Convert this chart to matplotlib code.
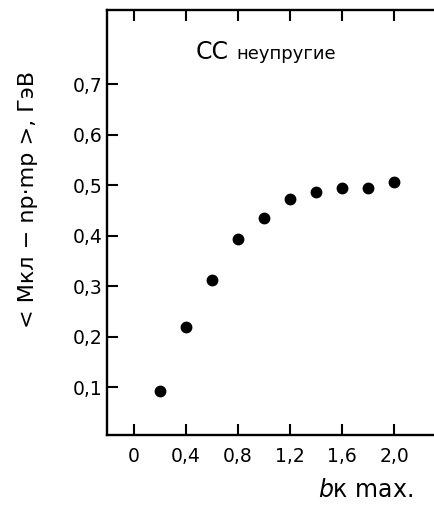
import matplotlib
matplotlib.use('Agg')
import matplotlib.pyplot as plt

plt.rcParams['font.family'] = ['DejaVu Sans']

# bk max vs mean cluster mass excess, CC inelastic
b_max = [0.2, 0.4, 0.6, 0.8, 1.0, 1.2, 1.4, 1.6, 1.8, 2.0]
mass = [0.092, 0.219, 0.312, 0.394, 0.434, 0.473, 0.487, 0.495, 0.495, 0.506]

x_ticks = [0, 0.4, 0.8, 1.2, 1.6, 2.0]
x_ticklabels = ['0', '0,4', '0,8', '1,2', '1,6', '2,0']
y_ticks = [0.1, 0.2, 0.3, 0.4, 0.5, 0.6, 0.7]
y_ticklabels = ['0,1', '0,2', '0,3', '0,4', '0,5', '0,6', '0,7']

W, H = 435, 515
fig = plt.figure(figsize=(W / 100, H / 100), dpi=100)
# frame runs past the right edge of the canvas
left, right, top, bottom = 107, 445, 10, 435
ax = fig.add_axes([left / W, 1 - bottom / H, (right - left) / W, (bottom - top) / H])

ax.plot(b_max, mass, 'o', color='black', ms=7.5)

ax.set_xlim(-0.208, 2.392)
ax.set_ylim(0.005, 0.847)
ax.set_xticks(x_ticks)
ax.set_xticklabels(x_ticklabels)
ax.set_yticks(y_ticks)
ax.set_yticklabels(y_ticklabels)

for s in ax.spines.values():
    s.set_linewidth(1.7)
ax.tick_params(axis='both', direction='in', length=8, width=1.5,
               top=True, right=True, labelsize=13.5)
ax.tick_params(axis='x', pad=9)
ax.tick_params(axis='y', pad=3)

fig.text(212 / W, 1 - 52 / H, 'CC', fontsize=17, ha='center', va='center')
fig.text(286 / W, 1 - 54 / H, 'неупругие', fontsize=13, ha='center', va='center')

fig.text(28 / W, 1 - 199 / H, '< Мкл − np·mp >, ГэВ', fontsize=16,
         rotation=90, ha='center', va='center')
fig.text(366 / W, 1 - 490 / H, r'$\mathit{b}$к max.', fontsize=17,
         ha='center', va='center')

fig.savefig('out.png', dpi=100)
